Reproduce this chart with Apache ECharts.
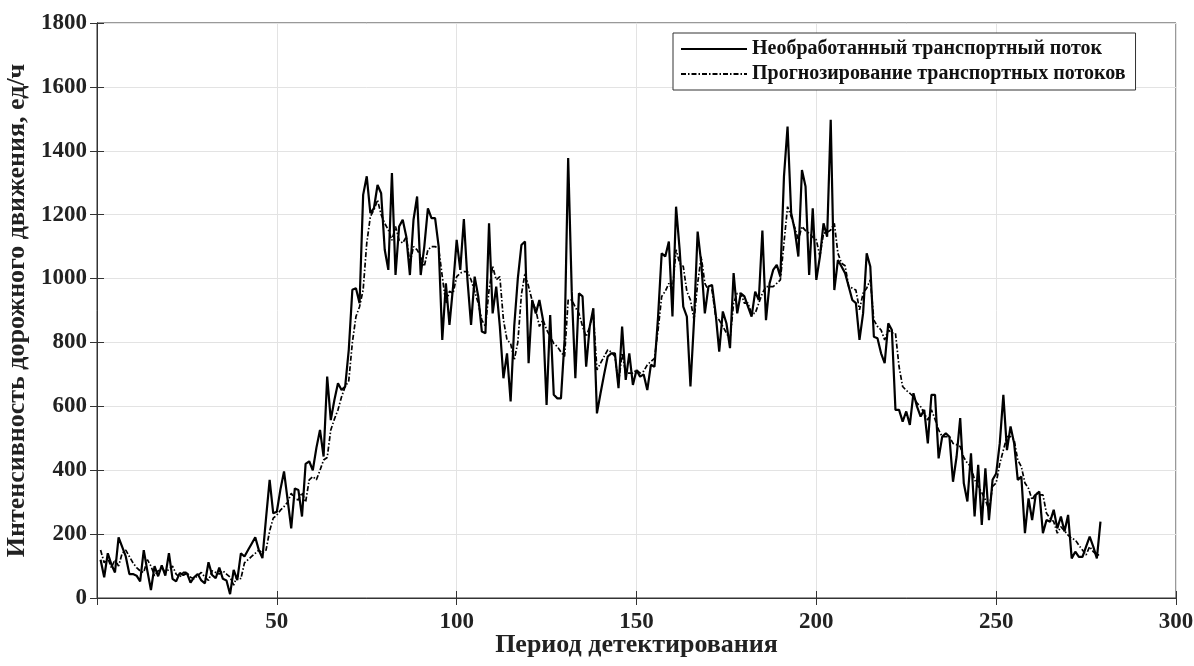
<!DOCTYPE html>
<html>
<head>
<meta charset="utf-8">
<script src="https://cdn.jsdelivr.net/npm/echarts@6/dist/echarts.min.js"></script>
<style>
html,body{margin:0;padding:0;background:#fff;}
#chart{width:1194px;height:666px;}
</style>
</head>
<body>
<div id="chart"></div>
<script>
const firstPeriod = 1;
const rawFlow = [
120,65,140,105,80,190,160,130,75,75,70,52,150,85,25,100,68,102,70,140,
60,52,78,72,78,48,65,75,55,46,112,72,62,95,60,55,12,88,56,140,
130,150,170,190,150,125,250,370,265,270,340,396,307,218,343,338,255,420,428,400,
470,526,443,693,557,620,672,651,662,777,965,970,923,1262,1320,1205,1220,1293,1267,1090,
1027,1330,1011,1163,1184,1131,1011,1184,1257,1011,1100,1220,1189,1189,1100,808,985,855,975,1121,
1027,1186,996,855,1006,944,834,829,1173,891,975,850,688,766,615,850,1000,1105,1116,735,
933,891,933,871,604,886,636,625,625,808,1377,959,688,954,944,724,850,907,578,641,
700,756,766,766,657,850,683,766,667,714,693,700,651,730,724,881,1079,1069,1116,881,
1225,1090,912,881,662,870,1147,1048,891,975,980,891,771,897,860,782,1017,891,954,944,
912,881,959,933,1150,870,985,1027,1043,1006,1319,1476,1205,1152,1069,1340,1288,1011,1220,996,
1069,1173,1131,1497,964,1058,1038,1017,975,933,923,808,891,1079,1038,818,813,766,735,860,
839,589,589,552,584,542,641,599,568,589,484,636,636,437,505,516,505,364,443,563,
359,302,453,255,417,229,406,244,370,390,484,636,463,537,484,370,380,203,312,244,
323,333,203,244,239,276,218,255,208,260,124,145,129,129,161,192,161,124,239
];
const forecastFlow = [
150,110,125,95,120,100,140,150,130,110,95,85,80,120,100,70,85,95,80,90,
100,75,65,80,80,65,60,70,80,65,55,85,80,75,85,75,65,40,70,60,
110,120,130,140,150,140,150,210,250,260,275,286,300,328,310,307,330,300,370,380,
370,400,432,440,526,560,589,630,662,680,800,881,912,965,1111,1194,1215,1246,1200,1173,
1152,1120,1163,1120,1111,1131,1048,1100,1090,1070,1038,1090,1100,1100,1095,1006,923,960,954,1006,
1017,1022,1022,996,960,923,870,850,964,1038,996,1006,871,808,797,745,800,950,1017,975,
930,902,850,871,840,818,797,787,770,756,933,933,910,891,850,818,850,891,714,735,
756,777,770,756,672,766,704,704,704,714,704,710,730,740,750,839,944,960,985,964,
1090,1048,1038,960,933,870,985,1069,985,964,964,881,870,850,830,808,923,954,954,923,
923,891,891,923,954,975,975,975,985,996,1111,1225,1194,1160,1121,1163,1150,1142,1130,1121,
1069,1142,1145,1152,1173,1079,1048,1040,975,970,964,902,954,970,996,870,850,839,808,839,
830,829,724,662,650,641,630,610,599,578,557,589,560,526,505,505,505,484,480,474,
440,422,411,370,349,330,307,276,349,360,420,463,505,505,495,432,411,360,343,307,
328,323,323,265,250,239,203,223,210,197,187,182,165,150,135,161,145,135,135
];
const xTicks = [0, 50, 100, 150, 200, 250, 300];
const yTicks = [0, 200, 400, 600, 800, 1000, 1200, 1400, 1600, 1800];
const seriesNames = ['Необработанный транспортный поток', 'Прогнозирование транспортных потоков'];
const xTitle = 'Период детектирования';
const yTitle = 'Интенсивность дорожного движения, ед/ч';

const toPairs = arr => arr.map((v, i) => [firstPeriod + i, v]);
const FONT = '"Liberation Serif", "Times New Roman", serif';
const xStep = xTicks[1] - xTicks[0];
const yStep = yTicks[1] - yTicks[0];

const chart = echarts.init(document.getElementById('chart'), null, {renderer: 'canvas'});
const tickStyle = {show: true, inside: true, length: 7, lineStyle: {color: '#333', width: 1}};
chart.setOption({
  animation: false,
  backgroundColor: '#fff',
  grid: {left: 97, right: 18, top: 23, bottom: 68, show: true, borderColor: '#333', borderWidth: 1,
         backgroundColor: 'transparent', containLabel: false, outerBoundsMode: 'none'},
  legend: {
    orient: 'vertical', left: 673, top: 33,
    padding: [6, 10, 6, 7], itemGap: 5, itemWidth: 66, itemHeight: 18,
    borderColor: '#333', borderWidth: 1, backgroundColor: '#fff',
    itemStyle: {opacity: 0},
    textStyle: {fontFamily: FONT, fontWeight: 'bold', fontSize: 20, color: '#111'},
    data: seriesNames
  },
  xAxis: [
    {
      type: 'value', min: xTicks[0], max: xTicks[xTicks.length - 1], interval: xStep,
      position: 'bottom',
      name: xTitle, nameLocation: 'middle', nameGap: 34, nameMoveOverlap: false,
      nameTextStyle: {fontFamily: FONT, fontWeight: 'bold', fontSize: 26, color: '#222'},
      axisLine: {show: true, lineStyle: {color: '#333', width: 1}},
      axisTick: tickStyle,
      axisLabel: {showMinLabel: false, margin: 13, formatter: v => String(v), fontFamily: FONT, fontWeight: 'bold', fontSize: 23, color: '#222'},
      splitLine: {show: true, lineStyle: {color: '#e3e3e3', width: 1}}
    },
    {
      type: 'value', min: xTicks[0], max: xTicks[xTicks.length - 1], interval: xStep,
      position: 'top',
      axisLine: {show: true, lineStyle: {color: '#333', width: 1}},
      axisTick: tickStyle,
      axisLabel: {show: false}, splitLine: {show: false}
    }
  ],
  yAxis: [
    {
      type: 'value', min: yTicks[0], max: yTicks[yTicks.length - 1], interval: yStep,
      position: 'left',
      name: yTitle, nameLocation: 'middle', nameGap: 65,
      nameTextStyle: {fontFamily: FONT, fontWeight: 'bold', fontSize: 26, color: '#222'},
      axisLine: {show: true, lineStyle: {color: '#333', width: 1}},
      axisTick: tickStyle,
      axisLabel: {margin: 10, formatter: v => String(v), fontFamily: FONT, fontWeight: 'bold', fontSize: 23, color: '#222'},
      splitLine: {show: true, lineStyle: {color: '#e3e3e3', width: 1}}
    },
    {
      type: 'value', min: yTicks[0], max: yTicks[yTicks.length - 1], interval: yStep,
      position: 'right',
      axisLine: {show: true, lineStyle: {color: '#333', width: 1}},
      axisTick: tickStyle,
      axisLabel: {show: false}, splitLine: {show: false}
    }
  ],
  series: [
    {
      name: seriesNames[0], type: 'line', xAxisIndex: 0, yAxisIndex: 0,
      data: toPairs(rawFlow), symbol: 'none', showSymbol: false,
      lineStyle: {color: '#000', width: 2.2, type: 'solid'},
      itemStyle: {color: '#000'}, z: 3
    },
    {
      name: seriesNames[1], type: 'line', xAxisIndex: 0, yAxisIndex: 0,
      data: toPairs(forecastFlow), symbol: 'none', showSymbol: false,
      lineStyle: {color: '#000', width: 1.7, type: [5, 2, 1.5, 2]},
      itemStyle: {color: '#000'}, z: 4
    }
  ]
});
</script>
</body>
</html>
